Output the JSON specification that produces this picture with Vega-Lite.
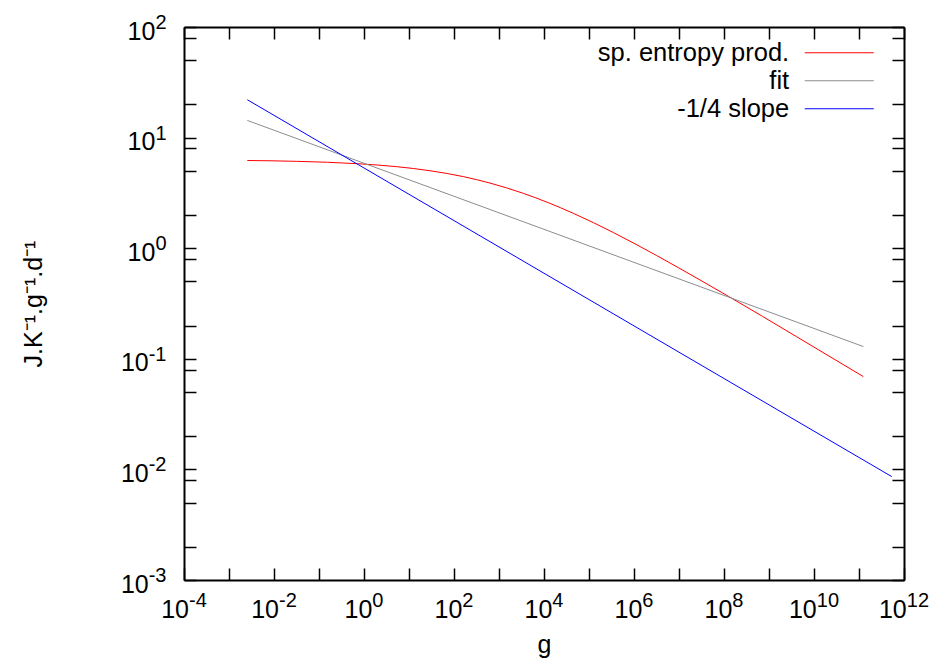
{
  "$schema": "https://vega.github.io/schema/vega-lite/v6.json",
  "width": 720,
  "height": 553,
  "autosize": {"type": "none"},
  "padding": {"left": 184, "top": 27, "right": 32, "bottom": 84},
  "background": "white",
  "config": {
    "view": {"stroke": null},
    "font": "Liberation Sans",
    "axis": {
      "domainColor": "black",
      "domainWidth": 2,
      "tickColor": "black",
      "tickWidth": 1.5,
      "tickSize": -12,
      "grid": false,
      "labels": false,
      "titleFont": "Liberation Sans",
      "titleFontSize": 25,
      "titleFontWeight": "normal",
      "titleColor": "black"
    }
  },
  "datasets": {
    "curves": [
      {"series": "sp. entropy prod.", "g": 0.002553, "v": 6.209},
      {"series": "sp. entropy prod.", "g": 0.0319, "v": 6.101},
      {"series": "sp. entropy prod.", "g": 0.746, "v": 5.802},
      {"series": "sp. entropy prod.", "g": 5.33, "v": 5.458},
      {"series": "sp. entropy prod.", "g": 29.3, "v": 5.016},
      {"series": "sp. entropy prod.", "g": 161, "v": 4.439},
      {"series": "sp. entropy prod.", "g": 631, "v": 3.880},
      {"series": "sp. entropy prod.", "g": 3467, "v": 3.134},
      {"series": "sp. entropy prod.", "g": 44770, "v": 2.068},
      {"series": "sp. entropy prod.", "g": 346700, "v": 1.386},
      {"series": "sp. entropy prod.", "g": 3190000, "v": 0.858},
      {"series": "sp. entropy prod.", "g": 29300000, "v": 0.516},
      {"series": "sp. entropy prod.", "g": 125000000, "v": 0.3674},
      {"series": "sp. entropy prod.", "g": 4130000000, "v": 0.1582},
      {"series": "sp. entropy prod.", "g": 125000000000, "v": 0.0690},
      {"series": "fit", "g": 0.002553, "v": 14.3},
      {"series": "fit", "g": 125000000000, "v": 0.129},
      {"series": "-1/4 slope", "g": 0.002553, "v": 22.0},
      {"series": "-1/4 slope", "g": 533000000000, "v": 0.00861}
    ],
    "xticks": [
      {"v": 0.0001, "e": "-4"},
      {"v": 0.01, "e": "-2"},
      {"v": 1, "e": "0"},
      {"v": 100, "e": "2"},
      {"v": 10000, "e": "4"},
      {"v": 1000000, "e": "6"},
      {"v": 100000000, "e": "8"},
      {"v": 10000000000, "e": "10"},
      {"v": 1000000000000, "e": "12"}
    ],
    "yticks": [
      {"v": 0.001, "e": "-3"},
      {"v": 0.01, "e": "-2"},
      {"v": 0.1, "e": "-1"},
      {"v": 1, "e": "0"},
      {"v": 10, "e": "1"},
      {"v": 100, "e": "2"}
    ]
  },
  "resolve": {"axis": {"x": "independent", "y": "independent"}},
  "layer": [
    {
      "data": {"name": "curves"},
      "mark": {"type": "line", "strokeWidth": 1, "interpolate": "monotone"},
      "encoding": {
        "x": {
          "field": "g",
          "type": "quantitative",
          "scale": {"type": "log", "domain": [0.0001, 1000000000000], "nice": false},
          "axis": {
            "orient": "bottom",
            "title": "g",
            "titleBaseline": "alphabetic",
            "titlePadding": 72,
            "values": [0.0001, 0.001, 0.01, 0.1, 1, 10, 100, 1000, 10000, 100000, 1000000, 10000000, 100000000, 1000000000, 10000000000, 100000000000, 1000000000000],
            "encode": {"ticks": {"update": {"y2": {"signal": "abs(round(log(datum.value) / LN10)) % 2 == 0 ? -12 : -6"}}}}
          }
        },
        "y": {
          "field": "v",
          "type": "quantitative",
          "scale": {"type": "log", "domain": [0.001, 100], "nice": false},
          "axis": {
            "orient": "left",
            "title": "J.K⁻¹.g⁻¹.d⁻¹",
            "titleBaseline": "alphabetic",
            "titlePadding": 142,
            "values": [0.001, 0.002, 0.005, 0.008, 0.01, 0.02, 0.05, 0.08, 0.1, 0.2, 0.5, 0.8, 1, 2, 5, 8, 10, 20, 50, 80, 100],
            "encode": {"ticks": {"update": {"x2": {"signal": "abs(log(datum.value) / LN10 - round(log(datum.value) / LN10)) < 0.01 ? 12 : 6"}}}}
          }
        },
        "color": {
          "field": "series",
          "type": "nominal",
          "sort": null,
          "scale": {"domain": ["sp. entropy prod.", "fit", "-1/4 slope"], "range": ["#ff0000", "#8c8c8c", "#0000ff"]},
          "legend": {
            "orient": "none",
            "legendX": 642.5,
            "legendY": 13,
            "title": null,
            "padding": 0,
            "symbolType": "M-3,0H3",
            "symbolSize": 529,
            "symbolStrokeWidth": 1,
            "labelAlign": "right",
            "labelOffset": -62.8,
            "labelFont": "Liberation Sans",
            "labelFontSize": 25.5,
            "labelColor": "black",
            "labelLimit": 400,
            "rowPadding": 1
          }
        }
      }
    },
    {
      "data": {"name": "xticks"},
      "mark": {
        "type": "text",
        "text": "10",
        "font": "Liberation Sans",
        "fontSize": 25,
        "color": "black",
        "align": "right",
        "baseline": "alphabetic",
        "dy": 38.3,
        "dx": {"expr": "(27.8 - (length(replace(datum.e, '-', '')) * 11.12 + (indexof(datum.e, '-') >= 0 ? 6.66 : 0))) / 2"}
      },
      "encoding": {
        "x": {
          "field": "v",
          "type": "quantitative",
          "scale": {"type": "log", "domain": [0.0001, 1000000000000], "nice": false},
          "axis": {
            "orient": "top",
            "title": null,
            "values": [0.0001, 0.001, 0.01, 0.1, 1, 10, 100, 1000, 10000, 100000, 1000000, 10000000, 100000000, 1000000000, 10000000000, 100000000000, 1000000000000],
            "encode": {"ticks": {"update": {"y2": {"signal": "abs(round(log(datum.value) / LN10)) % 2 == 0 ? 12 : 6"}}}}
          }
        },
        "y": {"datum": 0.001, "type": "quantitative", "scale": {"type": "log", "domain": [0.001, 100], "nice": false}, "axis": null}
      }
    },
    {
      "data": {"name": "xticks"},
      "mark": {
        "type": "text",
        "font": "Liberation Sans",
        "fontSize": 20,
        "color": "black",
        "align": "left",
        "baseline": "alphabetic",
        "dy": 27.3,
        "dx": {"expr": "(27.8 - (length(replace(datum.e, '-', '')) * 11.12 + (indexof(datum.e, '-') >= 0 ? 6.66 : 0))) / 2"}
      },
      "encoding": {
        "x": {"field": "v", "type": "quantitative", "scale": {"type": "log", "domain": [0.0001, 1000000000000], "nice": false}, "axis": null},
        "y": {"datum": 0.001, "type": "quantitative", "scale": {"type": "log", "domain": [0.001, 100], "nice": false}, "axis": null},
        "text": {"field": "e", "type": "nominal"}
      }
    },
    {
      "data": {"name": "yticks"},
      "mark": {
        "type": "text",
        "text": "10",
        "font": "Liberation Sans",
        "fontSize": 25,
        "color": "black",
        "align": "right",
        "baseline": "alphabetic",
        "dy": 12.5,
        "dx": {"expr": "-17.5 - (length(replace(datum.e, '-', '')) * 11.12 + (indexof(datum.e, '-') >= 0 ? 6.66 : 0))"}
      },
      "encoding": {
        "x": {"datum": 0.0001, "type": "quantitative", "scale": {"type": "log", "domain": [0.0001, 1000000000000], "nice": false}, "axis": null},
        "y": {
          "field": "v",
          "type": "quantitative",
          "scale": {"type": "log", "domain": [0.001, 100], "nice": false},
          "axis": {
            "orient": "right",
            "title": null,
            "values": [0.001, 0.002, 0.005, 0.008, 0.01, 0.02, 0.05, 0.08, 0.1, 0.2, 0.5, 0.8, 1, 2, 5, 8, 10, 20, 50, 80, 100],
            "encode": {"ticks": {"update": {"x2": {"signal": "abs(log(datum.value) / LN10 - round(log(datum.value) / LN10)) < 0.01 ? -12 : -6"}}}}
          }
        }
      }
    },
    {
      "data": {"name": "yticks"},
      "mark": {
        "type": "text",
        "font": "Liberation Sans",
        "fontSize": 20,
        "color": "black",
        "align": "right",
        "baseline": "alphabetic",
        "dy": 2,
        "dx": -17.5
      },
      "encoding": {
        "x": {"datum": 0.0001, "type": "quantitative", "scale": {"type": "log", "domain": [0.0001, 1000000000000], "nice": false}, "axis": null},
        "y": {"field": "v", "type": "quantitative", "scale": {"type": "log", "domain": [0.001, 100], "nice": false}, "axis": null},
        "text": {"field": "e", "type": "nominal"}
      }
    }
  ]
}
